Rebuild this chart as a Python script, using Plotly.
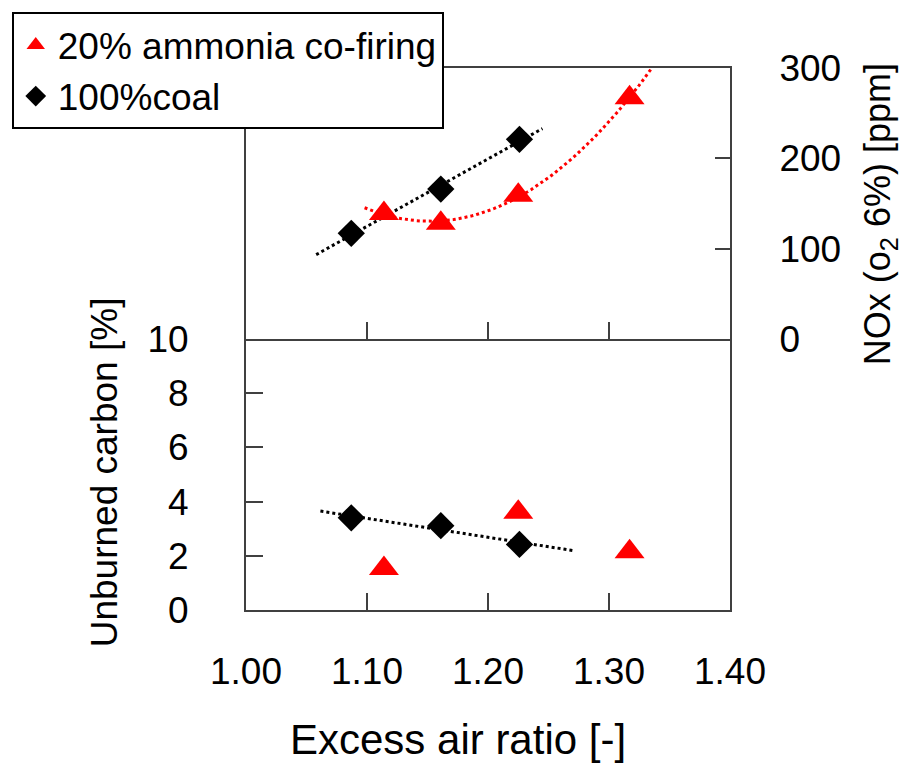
import numpy as np
import plotly.graph_objects as go

# ---- data ----
excess_coal = [1.087, 1.161, 1.226]
nox_coal = [117, 166, 221]
uc_coal = [3.40, 3.11, 2.42]

excess_nh3 = [1.114, 1.161, 1.225, 1.317]
nox_nh3 = [139, 128, 159, 267]
uc_nh3 = [1.53, None, 3.61, 2.15]

# trend-line extents (forecast ranges)
trend_coal_nox = [1.058, 1.245]
trend_nh3_nox = [1.098, 1.34]
trend_coal_uc = [1.0615, 1.271]

x_ticks = [1.0, 1.1, 1.2, 1.3, 1.4]
nox_ticks = [0, 100, 200, 300]
uc_ticks = [0, 2, 4, 6, 8, 10]

name_nh3 = "20% ammonia co-firing"
name_coal = "100%coal"

RED = "#FF0000"
BLK = "#000000"
AX = "#404040"
FONT = "Liberation Sans, Arial, sans-serif"


def fit_line(xs, ys, deg, rng, n=80):
    xs = np.array(xs, dtype=float)
    ys = np.array(ys, dtype=float)
    p = np.polyfit(xs, ys, deg)
    xx = np.linspace(rng[0], rng[1], n)
    return xx, np.polyval(p, xx)


fig = go.Figure()

# --- top panel: NOx ---
tx, ty = fit_line(excess_coal, nox_coal, 1, trend_coal_nox)
fig.add_trace(go.Scatter(x=tx, y=ty, mode="lines", xaxis="x2", yaxis="y2",
                         line=dict(color=BLK, width=3, dash="dot"),
                         showlegend=False, hoverinfo="skip"))
tx, ty = fit_line(excess_nh3, nox_nh3, 2, trend_nh3_nox)
fig.add_trace(go.Scatter(x=tx, y=ty, mode="lines", xaxis="x2", yaxis="y2",
                         line=dict(color=RED, width=3, dash="dot"),
                         showlegend=False, hoverinfo="skip"))
fig.add_trace(go.Scatter(x=excess_nh3, y=nox_nh3, mode="markers", xaxis="x2", yaxis="y2",
                         name=name_nh3, legendrank=1,
                         marker=dict(symbol="triangle-up", size=26, color=RED)))
fig.add_trace(go.Scatter(x=excess_coal, y=nox_coal, mode="markers", xaxis="x2", yaxis="y2",
                         name=name_coal, legendrank=2,
                         marker=dict(symbol="diamond", size=21, color=BLK)))

# --- bottom panel: unburned carbon ---
tx, ty = fit_line(excess_coal, uc_coal, 1, trend_coal_uc)
fig.add_trace(go.Scatter(x=tx, y=ty, mode="lines", xaxis="x", yaxis="y",
                         line=dict(color=BLK, width=3, dash="dot"),
                         showlegend=False, hoverinfo="skip"))
fig.add_trace(go.Scatter(x=excess_nh3, y=uc_nh3, mode="markers", xaxis="x", yaxis="y",
                         name=name_nh3, showlegend=False,
                         marker=dict(symbol="triangle-up", size=26, color=RED)))
fig.add_trace(go.Scatter(x=excess_coal, y=uc_coal, mode="markers", xaxis="x", yaxis="y",
                         name=name_coal, showlegend=False,
                         marker=dict(symbol="diamond", size=21, color=BLK)))

axis_common = dict(showline=True, linecolor=AX, linewidth=2, mirror=True,
                   ticks="inside", tickcolor=AX, tickwidth=2,
                   showgrid=False, zeroline=False,
                   tickfont=dict(family=FONT, size=37, color="#000000"))

fig.update_layout(
    width=906, height=765,
    margin=dict(l=243.5, r=176, t=64, b=155),
    paper_bgcolor="white", plot_bgcolor="white",
    font=dict(family=FONT, color="#000000"),
    xaxis=dict(axis_common, domain=[0, 1], anchor="y", range=[1.0, 1.4], mirror=False,
               tickvals=x_ticks, ticktext=[f"{v:.2f}" for v in x_ticks],
               ticklen=17, ticklabelstandoff=28),
    xaxis2=dict(axis_common, domain=[0, 1], anchor="y2", range=[1.0, 1.4], matches="x",
                tickvals=x_ticks, ticklen=17, showticklabels=False),
    yaxis=dict(axis_common, domain=[0, 0.5], anchor="x", range=[0, 10],
               tickvals=uc_ticks, ticklen=17, ticklabelstandoff=48),
    yaxis2=dict(axis_common, domain=[0.5, 1], anchor="x2", side="right", range=[0, 300],
                tickvals=nox_ticks, ticklen=15, ticklabelstandoff=40),
    legend=dict(x=-0.484, y=1.1026, xanchor="left", yanchor="top",
                bgcolor="white", bordercolor="#000000", borderwidth=2,
                font=dict(family=FONT, size=37, color="#000000"),
                tracegroupgap=0, itemwidth=34),
    showlegend=True,
    annotations=[
        dict(text="Excess air ratio [-]", xref="paper", yref="paper",
             x=(457 - 243.5) / 486.5, y=-(740 - 610) / 546,
             xanchor="center", yanchor="middle", showarrow=False,
             font=dict(family=FONT, size=42, color="#000000")),
        dict(text="Unburned carbon [%]", xref="paper", yref="paper",
             x=(101 - 243.5) / 486.5, y=(610 - 471) / 546,
             xanchor="center", yanchor="middle", showarrow=False, textangle=-90,
             font=dict(family=FONT, size=37, color="#000000")),
        dict(text="NOx (o<sub>2</sub> 6%) [ppm]", xref="paper", yref="paper",
             x=(881 - 243.5) / 486.5, y=(610 - 211) / 546,
             xanchor="center", yanchor="middle", showarrow=False, textangle=-90,
             font=dict(family=FONT, size=36, color="#000000")),
    ],
)

fig.write_html("out.html")
